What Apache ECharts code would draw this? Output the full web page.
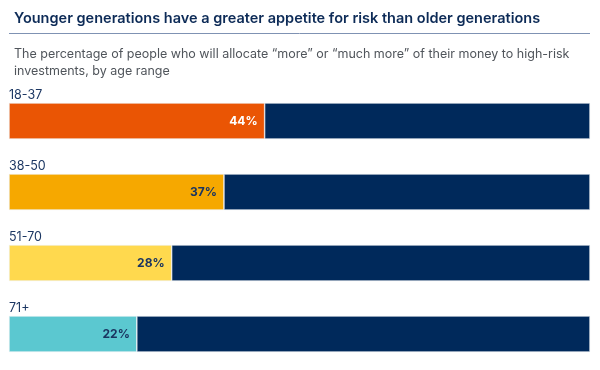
<!DOCTYPE html>
<html><head><meta charset="utf-8">
<script src="https://cdn.jsdelivr.net/npm/echarts@6/dist/echarts.min.js"></script>
<style>html,body{margin:0;padding:0;background:#fff}#c{width:600px;height:370px}</style>
</head><body><div id="c"></div>
<script>
const categories = ['18-37', '38-50', '51-70', '71+'];
const shareValues = [44, 37, 28, 22];
const totalValues = [100, 100, 100, 100];
const barColors = ['#EA5504', '#F6A800', '#FFD94E', '#5BC8D0'];
const labelColors = ['#ffffff', '#1a3560', '#1a3560', '#1a3560'];

const restValues = totalValues.map((t, i) => t - shareValues[i]);

const chart = echarts.init(document.getElementById('c'), null, {renderer: 'canvas'});
chart.setOption({
  animation: false,
  title: [{
    text: 'Younger generations have a greater appetite for risk than older generations',
    left: 9, top: 6,
    textStyle: {fontFamily: 'Inter', fontSize: 14.5, fontWeight: 600, color: '#0d2b57'}
  }, {
    text: 'The percentage of people who will allocate \u201cmore\u201d or \u201cmuch more\u201d of their money to high-risk\ninvestments, by age range',
    left: 9, top: 41,
    textStyle: {fontFamily: 'Inter', fontSize: 12.5, fontWeight: 400, color: '#50555b', lineHeight: 17}
  }],
  graphic: [{
    type: 'line', shape: {x1: 9, y1: 33.5, x2: 590, y2: 33.5},
    style: {stroke: '#7f92b3', lineWidth: 1}
  }],
  grid: {left: 9, right: 10, top: 85.5, bottom: 0.5},
  xAxis: {type: 'value', min: 0, max: 100, show: false},
  yAxis: {
    type: 'category', data: categories, inverse: true,
    axisLine: {show: false}, axisTick: {show: false},
    axisLabel: {
      inside: true, margin: 0, align: 'left', verticalAlign: 'bottom',
      padding: [0, 0, 19, 0],
      fontFamily: 'Inter', fontSize: 12.5, color: '#1c3763'
    }
  },
  series: [{
    type: 'bar', stack: 'a', barWidth: 36,
    data: shareValues.map((v, i) => ({
      value: v,
      itemStyle: {color: barColors[i]},
      label: {color: labelColors[i]}
    })),
    itemStyle: {borderColor: '#eef1f5', borderWidth: 0.6},
    label: {
      show: true, position: 'insideRight', distance: 7,
      formatter: p => p.value + '%',
      fontFamily: 'Inter', fontSize: 12, fontWeight: 700
    }
  }, {
    type: 'bar', stack: 'a', barWidth: 36,
    data: restValues,
    itemStyle: {color: '#00295B', borderColor: '#eef1f5', borderWidth: 0.6},
    label: {show: false}
  }]
});
</script></body></html>
